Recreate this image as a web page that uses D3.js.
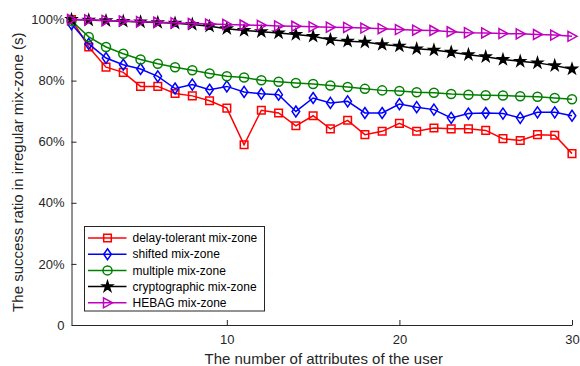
<!DOCTYPE html>
<html>
<head>
<meta charset="utf-8">
<script src="https://cdn.jsdelivr.net/npm/d3@7"></script>
<style>
  html, body { margin: 0; padding: 0; background: #fff; }
  svg { display: block; font-family: "Liberation Sans", Arial, sans-serif; }
</style>
</head>
<body>
<svg id="chart" width="580" height="366"></svg>
<script>
// Number of user attributes (x axis)
const attributes = d3.range(1, 31);

// Success ratio (%) for each mix-zone scheme
const delayTolerant = [100, 91, 84.4, 82.7, 78.1, 78.1, 75.8, 75.0, 73.4, 71.0,
  59.0, 70.3, 69.4, 65.2, 68.5, 64.2, 67.0, 62.3, 63.4, 66.0,
  63.4, 64.5, 64.2, 64.2, 63.7, 61.0, 60.4, 62.3, 62.1, 56.1];
const shifted = [98.5, 92.0, 87.4, 85.2, 83.8, 81.4, 77.4, 78.7, 77.0, 78.1,
  76.3, 75.7, 75.4, 69.9, 74.3, 72.7, 73.2, 69.4, 69.4, 72.3,
  71.3, 70.5, 67.8, 69.2, 69.4, 69.2, 67.8, 69.6, 69.6, 68.5];
const multiple = [99.6, 94.3, 91.0, 88.8, 86.9, 85.5, 84.4, 83.4, 82.3, 81.4,
  81.0, 80.1, 79.6, 79.2, 78.9, 78.4, 77.9, 77.3, 76.8, 76.6,
  76.2, 76.0, 75.6, 75.4, 75.2, 75.1, 74.9, 74.7, 74.3, 73.9];
const cryptographic = [100, 99.8, 99.6, 99.4, 99.2, 99.0, 98.8, 98.4, 97.8, 97.0,
  96.4, 96.0, 95.6, 95.1, 94.5, 93.4, 92.9, 92.6, 91.8, 91.3,
  90.4, 90.0, 89.3, 88.5, 87.8, 86.9, 86.3, 85.8, 84.9, 83.8];
const hebag = [100, 99.9, 99.7, 99.5, 99.3, 99.1, 98.9, 98.7, 98.5, 98.4,
  98.2, 98.1, 97.9, 97.8, 97.6, 97.5, 97.4, 97.2, 97.0, 96.7,
  96.5, 96.4, 96.0, 95.7, 95.6, 95.4, 95.3, 95.1, 94.9, 94.5];

const seriesNames = ["delay-tolerant mix-zone", "shifted mix-zone", "multiple mix-zone",
  "cryptographic mix-zone", "HEBAG mix-zone"];
const seriesValues = [delayTolerant, shifted, multiple, cryptographic, hebag];
const seriesColors = ["#ff0000", "#0000ff", "#008000", "#000000", "#bf00bf"];
const seriesMarkers = ["square", "diamond", "circle", "star", "triangle"];

const xTicks = [10, 20, 30];
const yTicks = [0, 20, 40, 60, 80, 100];

const svg = d3.select("#chart");
const margin = { left: 71.5, right: 8, top: 19.5, bottom: 41 };
const W = 580, H = 366;

const x = d3.scaleLinear().domain([1, 30]).range([margin.left, W - margin.right]);
const y = d3.scaleLinear().domain([0, 100]).range([H - margin.bottom, margin.top]);

const axisColor = "#262626";

// Axes (ticks point inward)
const xAxis = svg.append("g")
  .attr("transform", `translate(0,${y(0)})`)
  .call(d3.axisBottom(x).tickValues(xTicks).tickSizeInner(-5).tickSizeOuter(0).tickPadding(10));
const yAxis = svg.append("g")
  .attr("transform", `translate(${x(1)},0)`)
  .call(d3.axisLeft(y).tickValues(yTicks).tickSizeInner(-5).tickSizeOuter(0).tickPadding(7)
    .tickFormat(d => d === 0 ? "0" : d + "%"));

[xAxis, yAxis].forEach(a => {
  a.select(".domain").attr("stroke", axisColor).attr("stroke-width", 1);
  a.selectAll(".tick line").attr("stroke", axisColor);
  a.selectAll(".tick text").attr("fill", axisColor).style("font-size", "13px")
    .style("font-family", "Liberation Sans, Arial, sans-serif");
});

// Marker shapes
function markerPath(kind) {
  switch (kind) {
    case "square": return "M-3.8,-3.8H3.8V3.8H-3.8Z";
    case "diamond": return "M0,-5.5L3.8,0L0,5.5L-3.8,0Z";
    case "circle": return d3.symbol(d3.symbolCircle, 64)();
    case "star": return d3.symbol(d3.symbolStar, 32)();
    case "triangle": return "M-4,-5L5,0L-4,5Z";
  }
}

function drawMarker(g, kind, color) {
  g.append("path")
    .attr("d", markerPath(kind))
    .attr("fill", kind === "star" ? color : "none")
    .attr("stroke", color)
    .attr("stroke-width", 1.5)
    .attr("stroke-linejoin", "miter");
}

const line = d3.line().x((d, i) => x(attributes[i])).y(d => y(d));

const plot = svg.append("g");
seriesValues.forEach((vals, s) => {
  const g = plot.append("g");
  g.append("path")
    .datum(vals)
    .attr("d", line)
    .attr("fill", "none")
    .attr("stroke", seriesColors[s])
    .attr("stroke-width", 1.5);
  vals.forEach((v, i) => {
    const m = g.append("g").attr("transform", `translate(${x(attributes[i])},${y(v)})`);
    drawMarker(m, seriesMarkers[s], seriesColors[s]);
  });
});

// Legend
const legend = svg.append("g").attr("transform", "translate(84.5,226.5)");
legend.append("rect")
  .attr("width", 180).attr("height", 84.5)
  .attr("fill", "#fff").attr("stroke", axisColor).attr("stroke-width", 1);
seriesNames.forEach((name, s) => {
  const row = legend.append("g").attr("transform", `translate(0,${11.5 + s * 16.2})`);
  row.append("line").attr("x1", 3.5).attr("x2", 42).attr("y1", 0).attr("y2", 0)
    .attr("stroke", seriesColors[s]).attr("stroke-width", 1.5);
  const m = row.append("g").attr("transform", "translate(23,0)");
  drawMarker(m, seriesMarkers[s], seriesColors[s]);
  row.append("text").attr("x", 48).attr("y", 0).attr("dy", "0.35em")
    .style("font-size", "12px").attr("fill", "#000").text(name);
});

// Axis titles
svg.append("text")
  .attr("x", (x(1) + x(30)) / 2 + 2).attr("y", 364)
  .attr("text-anchor", "middle").style("font-size", "15px").attr("fill", axisColor)
  .text("The number of attributes of the user");
svg.append("text")
  .attr("transform", `translate(18,${(y(0) + y(100)) / 2}) rotate(-90)`)
  .attr("dy", "0.35em")
  .attr("text-anchor", "middle").style("font-size", "15px").attr("fill", axisColor)
  .text("The success ratio in irregular mix-zone (s)");
</script>
</body>
</html>
